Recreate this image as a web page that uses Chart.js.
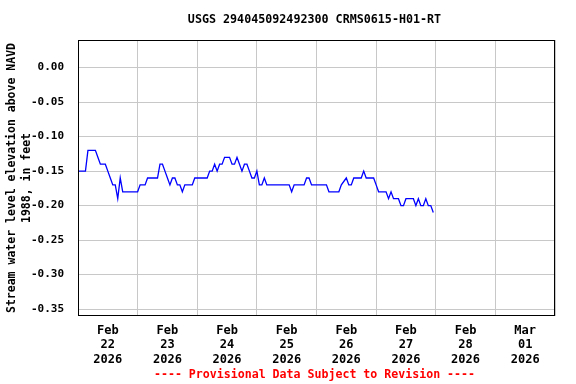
<!DOCTYPE html>
<html>
<head>
<meta charset="utf-8">
<script src="https://cdn.jsdelivr.net/npm/chart.js@4"></script>
<style>
  body { margin: 0; background: #fff; }
  #wrap { width: 576px; height: 384px; }
</style>
</head>
<body>
<div id="wrap"><canvas id="gageChart"></canvas></div>
<script>
// Godziny od 22 lutego 2026, 00:00 i odczytany poziom wody (ft)
const hours = [0, 3, 4, 7, 8, 9, 11, 12, 13, 14, 15, 16, 17, 18, 24, 25, 27, 28, 32, 33,
    34, 35, 36, 37, 38, 39, 40, 41, 42, 43, 46, 47, 52, 53, 54, 55, 56, 57, 58, 59,
    61, 62, 63, 64, 65, 66, 67, 68, 69, 70, 71, 72, 73, 74, 75, 76, 85, 86, 87, 91,
    92, 93, 94, 100, 101, 105, 106, 108, 109, 110, 111, 114, 115, 116, 119, 120, 121, 124, 125, 126,
    127, 129, 130, 131, 132, 135, 136, 137, 138, 139, 140, 141, 142, 143];
const levels = [-0.15, -0.15, -0.12, -0.12, -0.13, -0.14, -0.14, -0.15, -0.16, -0.17, -0.17, -0.19, -0.16, -0.18, -0.18, -0.17, -0.17, -0.16, -0.16, -0.14,
    -0.14, -0.15, -0.16, -0.17, -0.16, -0.16, -0.17, -0.17, -0.18, -0.17, -0.17, -0.16, -0.16, -0.15, -0.15, -0.14, -0.15, -0.14, -0.14, -0.13,
    -0.13, -0.14, -0.14, -0.13, -0.14, -0.15, -0.14, -0.14, -0.15, -0.16, -0.16, -0.15, -0.17, -0.17, -0.16, -0.17, -0.17, -0.18, -0.17, -0.17,
    -0.16, -0.16, -0.17, -0.17, -0.18, -0.18, -0.17, -0.16, -0.17, -0.17, -0.16, -0.16, -0.15, -0.16, -0.16, -0.17, -0.18, -0.18, -0.19, -0.18,
    -0.19, -0.19, -0.20, -0.20, -0.19, -0.19, -0.20, -0.19, -0.20, -0.20, -0.19, -0.20, -0.20, -0.21];

// Etykiety dni na osi X (w południe każdego dnia)
const dayMonths = ['Feb', 'Feb', 'Feb', 'Feb', 'Feb', 'Feb', 'Feb', 'Mar'];
const dayNumbers = ['22', '23', '24', '25', '26', '27', '28', '01'];
const dayYears = ['2026', '2026', '2026', '2026', '2026', '2026', '2026', '2026'];
const yTicks = [0.00, -0.05, -0.10, -0.15, -0.20, -0.25, -0.30, -0.35];

const titleText = 'USGS 294045092492300 CRMS0615-H01-RT';
const footerText = '---- Provisional Data Subject to Revision ----';

const FONT = '"DejaVu Sans Mono", monospace';

const points = hours.map((h, i) => ({ x: h, y: levels[i] }));

// Ramka wokół wykresu + tytuł i stopka wyśrodkowane nad obszarem danych
const frame = {
    id: 'frame',
    afterDraw(chart) {
        const { ctx, chartArea: a } = chart;
        ctx.save();
        ctx.strokeStyle = '#000';
        ctx.lineWidth = 1;
        ctx.strokeRect(a.left + 0.5, a.top + 0.5, a.right - a.left - 1, a.bottom - a.top - 1);

        const cx = (a.left + a.right) / 2 - 2;
        ctx.textAlign = 'center';
        ctx.textBaseline = 'middle';
        ctx.font = 'bold 11.7px ' + FONT;
        ctx.fillStyle = '#000';
        ctx.fillText(titleText, cx, 20);
        ctx.font = 'bold 11.6px ' + FONT;
        ctx.fillStyle = '#ff0000';
        ctx.fillText(footerText, cx, 375);
        ctx.restore();
    }
};

new Chart(document.getElementById('gageChart'), {
    type: 'line',
    data: {
        datasets: [{
            data: points,
            borderColor: '#0000ff',
            borderWidth: 1.3,
            pointRadius: 0,
            tension: 0,
            fill: false
        }]
    },
    plugins: [frame],
    options: {
        responsive: true,
        maintainAspectRatio: false,
        animation: false,
        layout: { padding: { left: 0, right: 21, top: 40, bottom: 18 } },
        plugins: {
            legend: { display: false },
            tooltip: { enabled: false },
            title: { display: false }
        },
        scales: {
            x: {
                type: 'linear',
                min: 0,
                max: 192,
                afterFit(scale) { scale.height = 50; },
                afterBuildTicks(scale) {
                    const t = [];
                    for (let v = 0; v <= 192; v += 12) t.push({ value: v });
                    scale.ticks = t;
                },
                grid: {
                    drawTicks: false,
                    color: (c) => (c.tick && c.tick.value % 24 === 0) ? '#c8c8c8' : 'rgba(0,0,0,0)'
                },
                border: { display: false },
                ticks: {
                    autoSkip: false,
                    maxRotation: 0,
                    padding: 7,
                    color: '#000',
                    font: { family: FONT, size: 12, weight: 'bold', lineHeight: 1.24 },
                    callback: function (value) {
                        if (value % 24 !== 12) return '';
                        const i = (value - 12) / 24;
                        return [dayMonths[i], dayNumbers[i], dayYears[i]];
                    }
                }
            },
            y: {
                min: -0.36,
                max: 0.04,
                afterFit(scale) { scale.width = 78; },
                afterBuildTicks(scale) {
                    scale.ticks = yTicks.map(v => ({ value: v }));
                },
                grid: { drawTicks: false, color: '#c8c8c8' },
                border: { display: false },
                title: {
                    display: true,
                    text: ['Stream water level elevation above NAVD', '1988, in feet'],
                    color: '#000',
                    font: { family: FONT, size: 11.5, weight: 'bold', lineHeight: 1.3 },
                    padding: { top: 5, bottom: 0 }
                },
                ticks: {
                    padding: 14,
                    color: '#000',
                    font: { family: FONT, size: 11, weight: 'bold' },
                    callback: function (value) {
                        const s = Math.abs(value) < 1e-9 ? 0 : value;
                        return s.toFixed(2);
                    }
                }
            }
        }
    }
});
</script>
</body>
</html>
